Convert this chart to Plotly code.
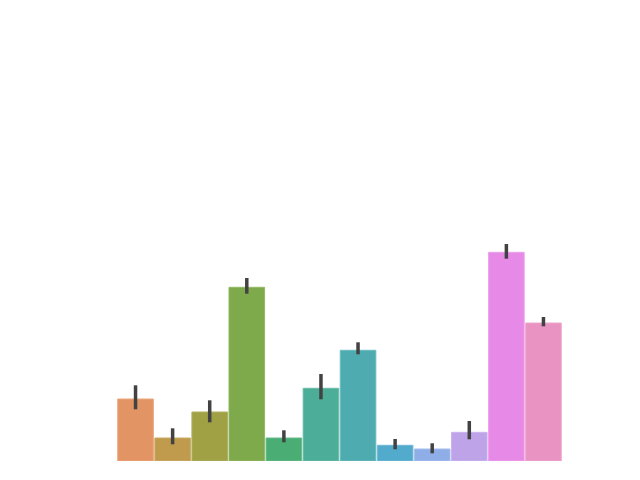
import plotly.graph_objects as go

categories = ["A", "B", "C", "D", "E", "F", "G", "H", "I", "J", "K", "L"]
values = [6.2, 2.3, 4.9, 17.37, 2.3, 7.27, 11.07, 1.57, 1.2, 2.87, 20.87, 13.8]
ci_low = [5.17, 1.67, 3.87, 16.73, 1.87, 6.17, 10.67, 1.17, 0.77, 2.17, 20.23, 13.47]
ci_high = [7.57, 3.27, 6.07, 18.3, 3.07, 8.7, 11.87, 2.2, 1.77, 4.0, 21.7, 14.4]

fill_colors = ["#e39464", "#c09b4d", "#a0a045", "#7eaa4b", "#4aae74", "#4cad98",
               "#4eacb0", "#52aacc", "#8faee8", "#bea3e8", "#e789e6", "#e893c2"]
edge_colors = ["#eaa57c", "#cbab66", "#b0b060", "#93b966", "#67bc8a", "#68bca8",
               "#6abbc0", "#6ebad6", "#a4bdee", "#cbb5ee", "#eda0ec", "#eea7ce"]

xpos = list(range(len(categories)))

fig = go.Figure()
fig.add_trace(go.Bar(
    x=xpos,
    y=values,
    width=0.96,
    marker=dict(color=fill_colors, line=dict(color=edge_colors, width=1)),
    error_y=dict(
        type="data",
        symmetric=False,
        array=[h - v for h, v in zip(ci_high, values)],
        arrayminus=[v - l for v, l in zip(values, ci_low)],
        color="#424242",
        thickness=3.5,
        width=0,
    ),
    hovertext=categories,
    showlegend=False,
))

fig.update_layout(
    width=640,
    height=480,
    margin=dict(l=117, r=78, t=58, b=19),
    paper_bgcolor="white",
    plot_bgcolor="white",
    xaxis=dict(range=[-0.5, 11.5], visible=False),
    yaxis=dict(range=[0, 40.3], visible=False),
)

fig.write_html("out.html")
